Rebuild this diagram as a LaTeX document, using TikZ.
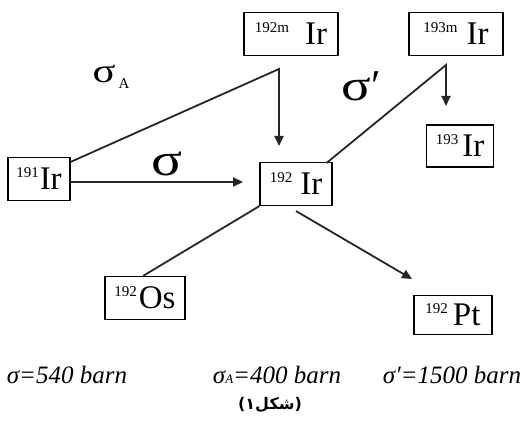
\documentclass[tikz,border=0pt]{standalone}
\usepackage{fontspec}
\setmainfont{Liberation Serif}
\newfontfamily\arabicfont[Script=Arabic]{DejaVu Sans}
\TeXXeTstate=1
\usetikzlibrary{arrows.meta}
\newcommand{\nuc}[3][6pt]{\raisebox{12pt}{\fontsize{15}{15}\selectfont #2}\hspace{#1}#3}
\newcommand{\wsig}{\scalebox{1.25}[1]{σ}}
\begin{document}
\begin{tikzpicture}[x=1pt,y=-1pt,
  iso/.style={draw,line width=1.1pt,inner xsep=4pt,inner ysep=0pt,minimum height=43pt,font=\fontsize{33}{33}\selectfont},
  link/.style={line width=1.8pt,black!85},
  tip/.style={link,-{Triangle[length=10pt,width=9pt]}},
  note/.style={font=\fontsize{25}{25}\selectfont\itshape}]
  \useasboundingbox (0,0) rectangle (532,422);
  \node[iso,minimum width=62pt] (ir191) at (39,179) {\nuc[1pt]{191}{Ir}};
  \node[iso,minimum width=94pt] (ir192m) at (291,34) {\nuc[16pt]{192m}{Ir}};
  \node[iso,minimum width=94pt] (ir193m) at (456,34) {\nuc[9pt]{193m}{Ir}};
  \node[iso,minimum width=67pt,minimum height=42pt] (ir193) at (460,146) {\nuc[4pt]{193}{Ir}};
  \node[iso,minimum width=72pt] (ir192) at (296,184) {\nuc[8pt]{192}{Ir}};
  \node[iso,minimum width=80pt] (os192) at (145,298) {\nuc[2pt]{192}{Os}};
  \node[iso,minimum width=78pt,minimum height=39pt] (pt192) at (453,315) {\nuc[5pt]{192}{Pt}};
  \coordinate (ka) at (279,69); \coordinate (kb) at (279,146);
  \coordinate (kc) at (243,182);
  \coordinate (kd) at (446,65); \coordinate (ke) at (446,106);
  \coordinate (kf) at (412,279);
  \draw[tip] ([yshift=-5pt]ir191.north east) -- (ka) -- (kb);
  \draw[tip] ([yshift=-3pt]ir191.east) -- (kc);
  \draw[tip] ([xshift=-6pt,yshift=-1pt]ir192.north east) -- (kd) -- (ke);
  \draw[link] (ir192.south west) -- ([xshift=-2pt]os192.north);
  \draw[tip] ([yshift=-5pt]ir192.south) -- (kf);
  \node[font=\fontsize{34}{34}\selectfont] (sa) at (104,74) {\wsig};
  \node[font=\fontsize{15}{15}\selectfont] (sasub) at (124,84) {A};
  \node[font=\fontsize{46}{46}\selectfont] (sg) at (167,164) {\wsig};
  \node[font=\fontsize{44}{44}\selectfont] (sp) at (361,86) {\wsig′};
  \node[note] (n1) at (67,375) {σ=540 barn};
  \node[note] (n2) at (277,375) {σ{\fontsize{13}{13}\selectfont A}=400 barn};
  \node[note] (n3) at (452,375) {σ′=1500 barn};
  \node[font=\arabicfont\bfseries\fontsize{16}{16}\selectfont] (cap) at (270,405) {\beginR(شکل۱)\endR};
\end{tikzpicture}
\end{document}
